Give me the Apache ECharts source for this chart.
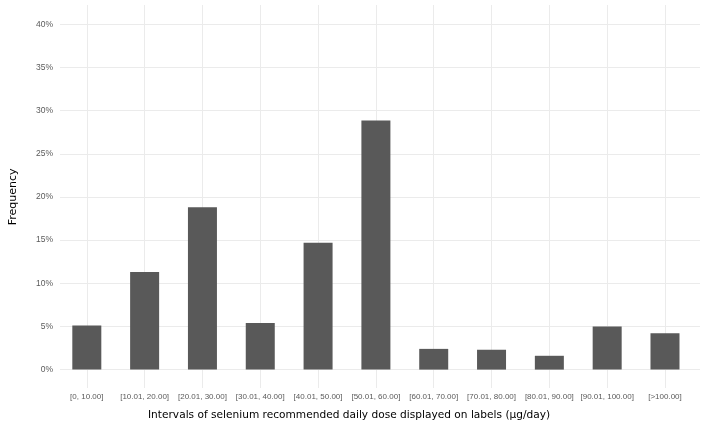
<!DOCTYPE html>
<html>
<head>
<meta charset="utf-8">
<script src="https://cdn.jsdelivr.net/npm/echarts@6/dist/echarts.min.js"></script>
<style>
  html, body { margin: 0; padding: 0; background: #fff; }
  #chart { width: 709px; height: 426px; }
</style>
</head>
<body>
<div id="chart"></div>
<script>
const categories = [
  '[0, 10.00]', '[10.01, 20.00]', '[20.01, 30.00]', '[30.01, 40.00]',
  '[40.01, 50.00]', '[50.01, 60.00]', '[60.01, 70.00]', '[70.01, 80.00]',
  '[80.01, 90.00]', '[90.01, 100.00]', '[>100.00]'
]
const frequency = [5.1, 11.3, 18.8, 5.4, 14.7, 28.85, 2.4, 2.3, 1.6, 5.0, 4.2]

const yMin = 0
const yMax = 40
const yStep = 5

const gridColor = '#ebebeb'
const labelColor = '#5a5a5a'

const chart = echarts.init(document.getElementById('chart'))

const option = {
  backgroundColor: '#fff',
  animation: false,
  title: {
    text: 'Intervals of selenium recommended daily dose displayed on labels (\u00b5g/day)',
    left: 148,
    top: 410,
    padding: 0,
    textStyle: {
      fontFamily: 'DejaVu Sans',
      fontSize: 10.6,
      fontWeight: 'normal',
      color: '#000'
    }
  },
  grid: [
    // data
    { left: 57.9, right: 15.1, top: 24.3, bottom: 56.4 },
    // vertical gridlines at category centres + category labels
    { left: 86.8, right: 44, top: 5, bottom: 38 },
    // horizontal gridlines + value labels
    { left: 52, right: 9, top: 24.3, bottom: 56.4 }
  ],
  xAxis: [
    { gridIndex: 0, type: 'category', data: categories, show: false },
    {
      gridIndex: 1,
      type: 'category',
      data: categories,
      boundaryGap: false,
      axisLine: { show: false },
      axisTick: { show: false },
      splitLine: { show: true, interval: 0, lineStyle: { color: gridColor, width: 1 } },
      axisLabel: {
        interval: 0,
        margin: 5,
        color: labelColor,
        fontFamily: 'Liberation Sans',
        fontSize: 8
      }
    },
    { gridIndex: 2, type: 'value', min: 0, max: 1, show: false }
  ],
  yAxis: [
    { gridIndex: 0, type: 'value', min: yMin, max: yMax, show: false },
    { gridIndex: 1, type: 'value', min: 0, max: 1, show: false },
    {
      gridIndex: 2,
      type: 'value',
      min: yMin,
      max: yMax,
      interval: yStep,
      name: 'Frequency',
      nameLocation: 'middle',
      nameRotate: 90,
      nameGap: 41,
      nameTextStyle: {
        fontFamily: 'DejaVu Sans',
        fontSize: 11,
        color: '#000'
      },
      axisLine: { show: false },
      axisTick: { show: false },
      splitLine: { show: true, lineStyle: { color: gridColor, width: 1 } },
      axisLabel: {
        margin: 7,
        color: labelColor,
        fontFamily: 'Liberation Sans',
        fontSize: 8.5,
        formatter: '{value}%'
      }
    }
  ],
  series: [
    {
      type: 'bar',
      xAxisIndex: 0,
      yAxisIndex: 0,
      barWidth: 29,
      itemStyle: { color: '#595959' },
      data: frequency
    }
  ]
}

chart.setOption(option)
</script>
</body>
</html>
